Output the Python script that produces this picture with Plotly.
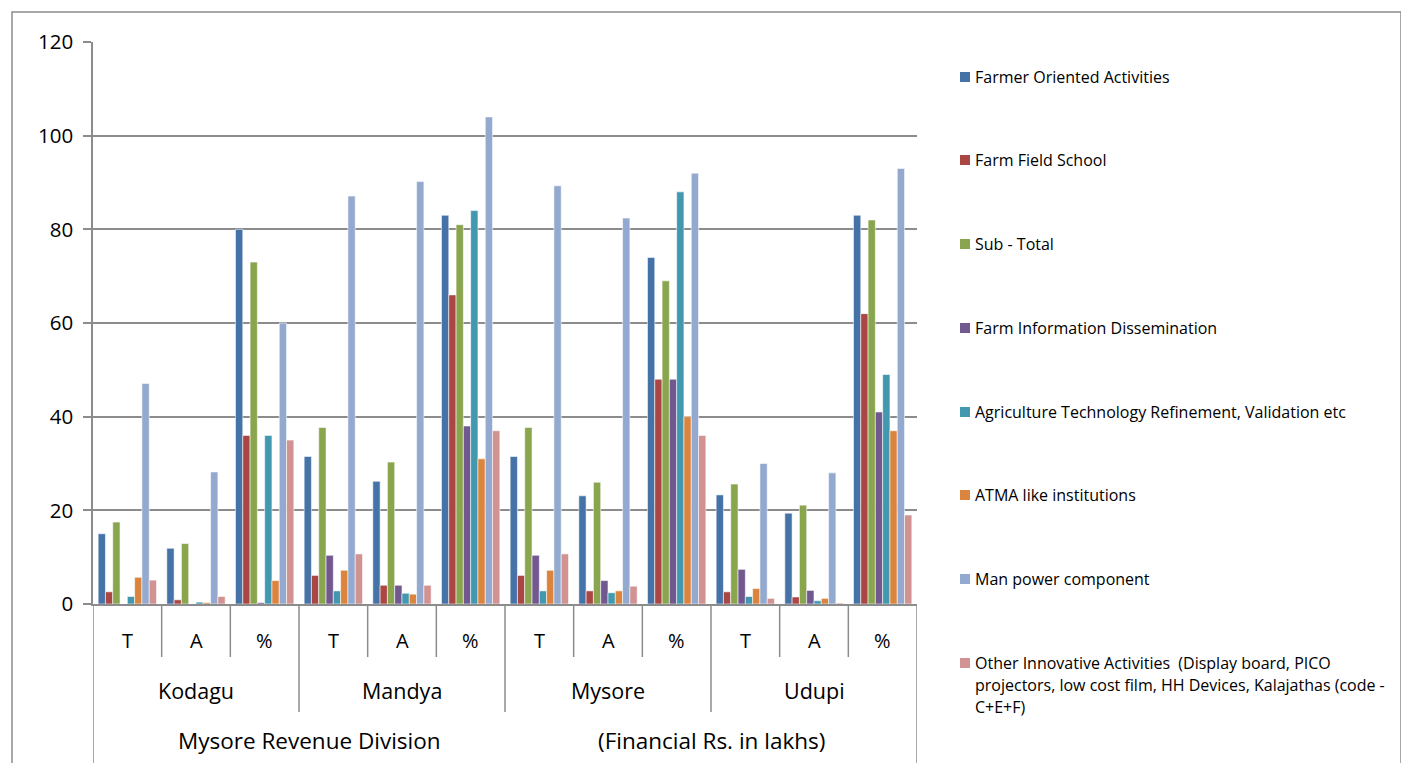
import plotly.graph_objects as go

# ---- data ----
districts = ["Kodagu", "Mandya", "Mysore", "Udupi"]
metrics = ["T", "A", "%"]
outer_labels = ["Mysore Revenue Division", "(Financial Rs. in lakhs)"]

series_names = [
    "Farmer Oriented Activities",
    "Farm Field School",
    "Sub - Total",
    "Farm Information Dissemination",
    "Agriculture Technology Refinement, Validation etc",
    "ATMA like institutions",
    "Man power component",
    "Other Innovative Activities  (Display board, PICO projectors, low cost film, HH Devices, Kalajathas (code - C+E+F)",
]
legend_lines = [
    ["Farmer Oriented Activities"],
    ["Farm Field School"],
    ["Sub - Total"],
    ["Farm Information Dissemination"],
    ["Agriculture Technology Refinement, Validation etc"],
    ["ATMA like institutions"],
    ["Man power component"],
    ["Other Innovative Activities  (Display board, PICO",
     "projectors, low cost film, HH Devices, Kalajathas (code -",
     "C+E+F)"],
]

farmer_oriented = [15.0, 11.9, 80, 31.5, 26.2, 83, 31.5, 23.1, 74, 23.3, 19.4, 83]
farm_field_school = [2.6, 0.9, 36, 6.1, 4.0, 66, 6.1, 2.8, 48, 2.6, 1.5, 62]
sub_total = [17.5, 12.9, 73, 37.7, 30.3, 81, 37.7, 26.0, 69, 25.6, 21.1, 82]
farm_info = [0.0, 0.0, 0.3, 10.4, 4.0, 38, 10.4, 5.0, 48, 7.4, 2.9, 41]
agri_tech = [1.6, 0.4, 36, 2.8, 2.3, 84, 2.8, 2.4, 88, 1.6, 0.7, 49]
atma = [5.7, 0.3, 5, 7.2, 2.1, 31, 7.2, 2.8, 40, 3.3, 1.2, 37]
man_power = [47.1, 28.2, 60, 87.1, 90.2, 104, 89.3, 82.4, 92, 30.0, 28.0, 93]
other_innov = [5.1, 1.6, 35, 10.7, 4.0, 37, 10.7, 3.8, 36, 1.2, 0.2, 19]

all_series = [farmer_oriented, farm_field_school, sub_total, farm_info,
              agri_tech, atma, man_power, other_innov]
colors = ["#4572A7", "#AA4643", "#89A54E", "#71588F",
          "#4198AF", "#DB843D", "#93A9CF", "#D19392"]

y_ticks = [0, 20, 40, 60, 80, 100, 120]

# ---- figure ----
n_cat = len(districts) * len(metrics)
xpos = list(range(n_cat))

FONT = "Open Sans"
GRID = "#8C8C8C"
OFF = 8  # page body margin

fig = go.Figure()
for name, vals, col in zip(series_names, all_series, colors):
    fig.add_trace(go.Bar(
        x=xpos, y=vals, name=name,
        marker=dict(color=col, line=dict(color="rgba(255,255,255,0.7)", width=0.8)),
        showlegend=False,
    ))

W, H = 1409 - OFF, 763 - OFF
L, R, T, B = 93 - OFF, 917 - OFF, 42 - OFF, 604 - OFF
pw, ph = R - L, B - T


def px_x(px):
    return (px - OFF - L) / pw


def px_y(py):
    return (B - (py - OFF)) / ph


shapes = []
annotations = []

# category table lines below the axis
for k in range(n_cat + 1):
    xv = k - 0.5
    if k == 0 or k == n_cat:
        y_end = px_y(775)
    elif k % len(metrics) == 0:
        y_end = px_y(712)
    else:
        y_end = px_y(657)
    shapes.append(dict(type="line", xref="x", yref="paper", x0=xv, x1=xv,
                       y0=0, y1=y_end, line=dict(color=GRID, width=1.5)))

# level 1 labels
for i in range(n_cat):
    annotations.append(dict(x=i, y=px_y(640), xref="x", yref="paper",
                            yanchor="middle", xanchor="center",
                            text=metrics[i % len(metrics)], showarrow=False,
                            font=dict(family=FONT, size=20, color="#000000")))
# level 2 labels
for d, name in enumerate(districts):
    annotations.append(dict(x=d * 3 + 1, y=px_y(690), xref="x", yref="paper",
                            yanchor="middle", xanchor="center",
                            text=name, showarrow=False,
                            font=dict(family=FONT, size=21.5, color="#000000")))
# level 3 labels
annotations.append(dict(x=2.65, y=px_y(740), xref="x", yref="paper",
                        yanchor="middle", xanchor="center",
                        text=outer_labels[0], showarrow=False,
                        font=dict(family=FONT, size=22.5, color="#000000")))
annotations.append(dict(x=8.5, y=px_y(740), xref="x", yref="paper",
                        yanchor="middle", xanchor="center",
                        text=outer_labels[1], showarrow=False,
                        font=dict(family=FONT, size=22.5, color="#000000")))

# legend (manual, to match spacing)
leg_y = [77, 160, 244, 328, 412, 495, 579, 663]
for lines, col, yy in zip(legend_lines, colors, leg_y):
    shapes.append(dict(type="rect", xref="paper", yref="paper",
                       x0=px_x(960), x1=px_x(970), y0=px_y(yy + 5), y1=px_y(yy - 5),
                       fillcolor=col, line=dict(width=0)))
    for j, ln in enumerate(lines):
        annotations.append(dict(x=px_x(973), y=px_y(yy + 22 * j), xref="paper", yref="paper",
                                xanchor="left", yanchor="middle", text=ln, showarrow=False,
                                font=dict(family=FONT, size=16, color="#000000")))

# outer chart border
shapes.append(dict(type="rect", xref="paper", yref="paper",
                   x0=px_x(12), x1=px_x(1401), y0=px_y(800), y1=px_y(12),
                   line=dict(color="#8C8C8C", width=1.5), fillcolor="rgba(0,0,0,0)"))

fig.update_layout(
    width=W, height=H, autosize=False,
    margin=dict(l=L, r=W - R, t=T, b=H - B, pad=0),
    paper_bgcolor="white", plot_bgcolor="white",
    barmode="group", bargap=0.15, bargroupgap=0,
    font=dict(family=FONT, color="#000000"),
    shapes=shapes, annotations=annotations,
    xaxis=dict(range=[-0.5, n_cat - 0.5], showticklabels=False, ticks="",
               showgrid=False, zeroline=False, showline=True,
               linecolor=GRID, linewidth=1.5, fixedrange=True),
    yaxis=dict(range=[0, 120], tickvals=y_ticks, showgrid=True, gridcolor=GRID,
               gridwidth=1.5, zeroline=False, showline=True, linecolor=GRID,
               linewidth=1.5, ticks="outside", ticklen=8, tickcolor=GRID, tickwidth=1.5,
               tickfont=dict(family=FONT, size=20.5, color="#000000"),
               ticklabelstandoff=6),
)

fig.write_html("out.html")
